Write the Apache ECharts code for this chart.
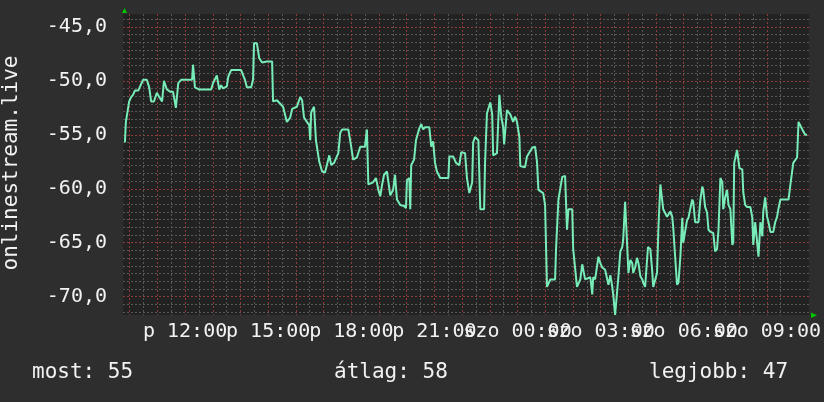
<!DOCTYPE html>
<html>
<head>
<meta charset="utf-8">
<script src="https://cdn.jsdelivr.net/npm/echarts@6/dist/echarts.min.js"></script>
<style>
html, body { margin: 0; padding: 0; background: #2e2e2e; }
#main { width: 824px; height: 402px; }
</style>
</head>
<body>
<div id="main"></div>
<script>
// idő: percek péntek 00:00-tól (1440 felett már szombat)
const times = [
  590,592,599,603,607,611,618,628,636,641,
  645,651,657,662,668,672,678,685,691,697,
  702,708,731,733,737,746,771,775,783,788,
  792,796,804,807,813,834,842,846,855,859,
  861,867,872,878,880,888,899,901,909,912,
  922,930,937,941,951,958,962,966,972,977,
  979,981,987,991,998,1004,1010,1014,1019,1023,
  1029,1038,1042,1046,1059,1065,1069,1077,1084,1094,
  1098,1101,1111,1117,1122,1126,1130,1134,1140,1147,
  1153,1157,1161,1168,1176,1180,1182,1187,1189,1191,
  1197,1201,1208,1212,1216,1220,1229,1233,1237,1241,
  1245,1252,1269,1271,1279,1285,1292,1296,1304,1308,
  1313,1319,1321,1325,1332,1336,1344,1346,1350,1357,
  1361,1363,1371,1376,1380,1384,1386,1392,1399,1405,
  1409,1413,1418,1420,1430,1434,1445,1451,1455,1458,
  1468,1472,1476,1483,1493,1495,1500,1508,1514,1518,
  1521,1529,1531,1539,1546,1550,1552,1556,1567,1571,
  1573,1577,1584,1588,1592,1598,1605,1609,1613,1615,
  1619,1623,1626,1630,1634,1636,1640,1644,1647,1651,
  1655,1657,1661,1665,1668,1672,1676,1678,1682,1686,
  1688,1693,1697,1699,1703,1707,1710,1714,1718,1720,
  1728,1735,1739,1741,1745,1749,1752,1756,1760,1762,
  1766,1770,1773,1777,1781,1783,1787,1794,1798,1802,
  1804,1808,1812,1815,1819,1825,1829,1833,1836,1840,
  1844,1846,1850,1854,1857,1861,1865,1867,1869,1875,
  1878,1880,1886,1888,1892,1896,1903,1907,1909,1913,
  1917,1920,1924,1928,1930,1934,1938,1941,1945,1951,
  1955,1959,1962,1966,1983,1987,1993,2001,2004,2008,
  2012,2014,2018,2022
];
const values = [
  -55.7,-53.8,-51.9,-51.5,-51.3,-50.9,-50.9,-49.9,-49.9,-50.6,
  -51.9,-51.9,-51.1,-51.5,-51.9,-50.0,-50.8,-51.0,-51.0,-52.5,
  -50.2,-49.9,-49.9,-48.5,-50.6,-50.8,-50.8,-50.2,-49.5,-50.8,
  -50.4,-50.7,-50.5,-49.6,-49.0,-49.0,-49.9,-50.6,-50.6,-49.9,
  -46.5,-46.5,-47.9,-48.3,-48.4,-48.2,-48.2,-51.9,-51.8,-51.9,
  -52.4,-53.8,-53.4,-52.6,-52.4,-51.5,-51.8,-53.4,-53.8,-54.1,
  -55.5,-52.9,-52.4,-55.5,-57.5,-58.4,-58.5,-57.8,-56.9,-57.8,
  -57.6,-56.7,-54.8,-54.5,-54.5,-56.1,-57.3,-57.1,-56.1,-56.1,
  -54.5,-59.6,-59.4,-59.0,-60.1,-60.7,-59.6,-58.7,-58.4,-60.6,
  -60.1,-58.7,-61.0,-61.5,-61.6,-61.8,-59.2,-59.0,-61.9,-57.8,
  -57.3,-55.5,-54.4,-54.0,-54.5,-54.3,-54.3,-56.1,-55.6,-57.6,
  -58.4,-59.0,-59.0,-57.0,-57.0,-57.6,-57.8,-56.6,-56.7,-59.0,
  -60.4,-59.4,-55.7,-55.2,-55.5,-61.9,-61.9,-57.6,-53.0,-52.0,
  -53.1,-56.9,-56.7,-51.3,-53.3,-54.3,-55.9,-52.7,-53.1,-53.8,
  -53.3,-53.8,-55.2,-57.9,-58.0,-57.0,-56.2,-56.1,-57.5,-60.1,
  -60.4,-61.5,-69.1,-68.4,-68.4,-65.6,-61.0,-58.9,-58.8,-63.8,
  -61.9,-61.9,-65.6,-69.1,-68.4,-67.0,-67.0,-68.4,-68.2,-69.8,
  -68.2,-68.4,-66.3,-66.9,-67.3,-67.5,-68.9,-68.0,-69.1,-69.8,
  -71.7,-71.7,-68.1,-65.8,-65.4,-64.7,-61.2,-61.2,-67.8,-66.6,
  -66.9,-67.8,-67.3,-66.4,-66.9,-68.1,-68.4,-68.7,-69.1,-69.2,
  -65.4,-65.6,-67.7,-69.1,-69.1,-67.8,-63.5,-59.6,-59.6,-61.9,
  -62.6,-62.1,-62.6,-63.6,-66.3,-68.9,-68.7,-66.3,-62.7,-65.0,
  -65.0,-62.9,-62.7,-61.8,-61.0,-61.2,-63.1,-63.1,-61.0,-59.8,
  -60.1,-61.7,-62.2,-63.8,-64.0,-64.1,-65.8,-65.6,-63.8,-59.0,
  -59.4,-61.9,-60.8,-60.1,-61.5,-61.9,-65.2,-65.0,-57.6,-56.4,
  -56.4,-58.1,-58.2,-60.3,-61.5,-61.7,-61.7,-62.7,-65.2,-63.1,
  -64.9,-66.3,-63.1,-64.4,-62.1,-60.8,-62.6,-63.1,-64.0,-64.0,
  -63.1,-62.6,-61.8,-61.0,-61.0,-59.6,-57.6,-57.1,-53.8,-53.8,
  -54.5,-54.5,-55.0,-55.0
];
const xLabelMinutes = [720, 900, 1080, 1260, 1440, 1620, 1800, 1980];
const xLabelTexts = ['p 12:00', 'p 15:00', 'p 18:00', 'p 21:00', 'szo 00:00', 'szo 03:00', 'szo 06:00', 'szo 09:00'];
const yLabelValues = [-70, -65, -60, -55, -50, -45];
const yLabelTexts = ['-70,0', '-65,0', '-60,0', '-55,0', '-50,0', '-45,0'];
const summary = ['most: 55', 'átlag: 58', 'legjobb: 47'];

const xMin = 586, xMax = 2026;
const yMin = -71.7, yMax = -43.8;
const plot = { left: 123, top: 14, width: 686, height: 301 };
const pxPerMin = plot.width / (xMax - xMin);
const pxPerUnit = plot.height / (yMax - yMin);
const hStep = 5 / 7;               // vízszintes rács lépése
const hStart = -70 - 2 * hStep;    // első vízszintes rácsvonal
const vStart = 600;                // első függőleges rácsvonal (10:00)

const FONT = '"DejaVu Sans Mono", monospace';
const RED = '#8f3a3a', GRAY = '#575757';

const chart = echarts.init(document.getElementById('main'), null, { renderer: 'canvas' });

const option = {
  backgroundColor: '#2e2e2e',
  animation: false,
  grid: [
    { left: plot.left, top: plot.top, width: plot.width, height: plot.height,
      show: true, backgroundColor: '#222222', borderWidth: 0 },
    { left: plot.left, top: plot.top, width: plot.width,
      height: (yMax - hStart) * pxPerUnit },
    { left: plot.left + (vStart - xMin) * pxPerMin, top: plot.top,
      width: (xMax - vStart) * pxPerMin, height: plot.height }
  ],
  xAxis: [
    { gridIndex: 0, type: 'value', min: xMin, max: xMax, show: false },
    { gridIndex: 1, type: 'value', min: xMin, max: xMax, show: false },
    {
      gridIndex: 2, type: 'value', min: vStart, max: xMax, interval: 30,
      axisLine: { show: false }, axisTick: { show: false },
      axisLabel: {
        margin: 7, color: '#f2f2f2', fontFamily: FONT, fontSize: 20,
        showMinLabel: true, showMaxLabel: false,
        formatter: v => {
          const i = xLabelMinutes.indexOf(Math.round(v));
          return i >= 0 ? xLabelTexts[i] : '';
        }
      },
      splitLine: { show: true, showMaxLine: false,
        lineStyle: { color: [RED, GRAY], width: 1, type: [2, 2] } }
    }
  ],
  yAxis: [
    { gridIndex: 0, type: 'value', min: yMin, max: yMax, show: false },
    {
      gridIndex: 1, type: 'value', min: hStart, max: yMax, interval: hStep,
      axisLine: { show: false }, axisTick: { show: false },
      axisLabel: {
        margin: 16, color: '#f2f2f2', fontFamily: FONT, fontSize: 20,
        formatter: v => {
          const i = yLabelValues.findIndex(t => Math.abs(t - v) < 0.01);
          return i >= 0 ? yLabelTexts[i] : '';
        }
      },
      splitLine: { show: true, showMaxLine: false,
        lineStyle: { color: [GRAY, GRAY, RED, GRAY, GRAY, GRAY, GRAY], width: 1, type: [2, 2] } }
    },
    { gridIndex: 2, type: 'value', min: yMin, max: yMax, show: false }
  ],
  series: [{
    type: 'line',
    xAxisIndex: 0, yAxisIndex: 0,
    data: times.map((t, i) => [t, values[i]]),
    showSymbol: false,
    lineStyle: { color: '#78ecb8', width: 2 },
    z: 10
  }],
  graphic: [
    { type: 'text', x: 12, y: 163, rotation: Math.PI / 2,
      style: { text: 'onlinestream.live', font: '21px ' + FONT, fill: '#f2f2f2',
               textAlign: 'center', textVerticalAlign: 'middle', align: 'center', verticalAlign: 'middle' } },
    { type: 'text', x: 32, y: 373,
      style: { text: summary[0], font: '21px ' + FONT, fill: '#f2f2f2', textVerticalAlign: 'middle', verticalAlign: 'middle' } },
    { type: 'text', x: 334, y: 373,
      style: { text: summary[1], font: '21px ' + FONT, fill: '#f2f2f2', textVerticalAlign: 'middle', verticalAlign: 'middle' } },
    { type: 'text', x: 649, y: 373,
      style: { text: summary[2], font: '21px ' + FONT, fill: '#f2f2f2', textVerticalAlign: 'middle', verticalAlign: 'middle' } },
    { type: 'polygon', shape: { points: [[122, 13], [127, 13], [124.5, 8]] }, style: { fill: '#00c800' }, z: 20 },
    { type: 'polygon', shape: { points: [[811, 312.5], [811, 318], [817, 315.3]] }, style: { fill: '#00c800' }, z: 20 }
  ]
};

chart.setOption(option);
</script>
</body>
</html>
